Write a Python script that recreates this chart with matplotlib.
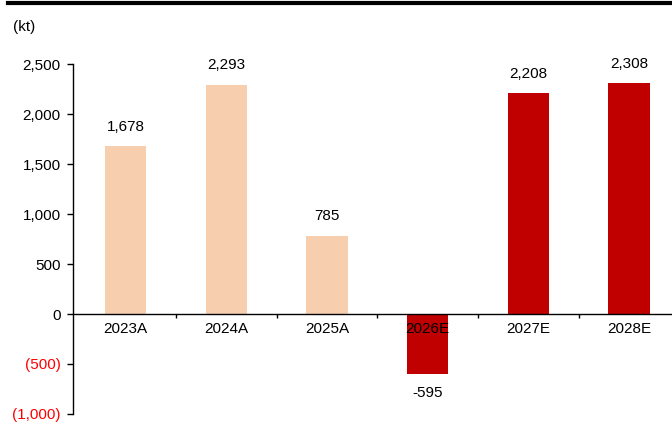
import matplotlib
matplotlib.use("Agg")
import matplotlib.pyplot as plt
from matplotlib.lines import Line2D
from matplotlib.ticker import FuncFormatter, FixedLocator

plt.rcParams['font.family'] = ['Liberation Sans', 'DejaVu Sans']
plt.rcParams['font.size'] = 11

years = ["2023A", "2024A", "2025A", "2026E", "2027E", "2028E"]
values = [1678, 2293, 785, -595, 2208, 2308]
is_estimate = [False, False, False, True, True, True]

ACTUAL_COLOR = "#F8CFAE"
ESTIMATE_COLOR = "#C00000"


def fmt_thousands(v, pos=None):
    v = int(round(v))
    if v < 0:
        return "({:,})".format(-v)
    return "{:,}".format(v)


fig = plt.figure(figsize=(6.72, 4.32), dpi=100)
ax = fig.add_axes([73 / 672, 18 / 432, 599 / 672, 350 / 432])

x = list(range(len(years)))
colors = [ESTIMATE_COLOR if e else ACTUAL_COLOR for e in is_estimate]
ax.bar(x, values, width=0.41, color=colors, zorder=1)

# value labels above positive bars, below negative ones
for xi, v in zip(x, values):
    if v >= 0:
        ax.annotate(f"{v:,}", (xi, v), xytext=(0, 9), textcoords="offset points",
                    ha="center", va="bottom", fontsize=11)
    else:
        ax.annotate(f"{v}", (xi, v), xytext=(0, -9), textcoords="offset points",
                    ha="center", va="top", fontsize=11)

ax.set_xlim(-0.521, 5.427)
ax.set_ylim(-1000, 2500)
ax.set_yticks(range(-1000, 2501, 500))
ax.yaxis.set_major_formatter(FuncFormatter(fmt_thousands))
for lbl, t in zip(ax.get_yticklabels(), ax.get_yticks()):
    lbl.set_color("#FF0000" if t < 0 else "black")

ax.set_xticks(x)
ax.set_xticklabels(years)
ax.xaxis.set_minor_locator(FixedLocator([i + 0.5 for i in range(len(years) - 1)]))
ax.tick_params(axis="x", which="major", length=0, pad=6, labelsize=11)
ax.tick_params(axis="x", which="minor", length=3, width=1, direction="out")
ax.tick_params(axis="y", length=4, width=1, pad=5, labelsize=11)

for side in ("top", "right"):
    ax.spines[side].set_visible(False)
ax.spines["bottom"].set_position(("data", 0))
ax.spines["left"].set_linewidth(1.0)
ax.spines["bottom"].set_linewidth(1.0)

# heavy rule across the top and the unit label
fig.add_artist(Line2D([8 / 672, 1.0], [1 - 3 / 432, 1 - 3 / 432],
                      color="black", lw=3.0, transform=fig.transFigure))
fig.text(13 / 672, 1 - 27 / 432, "(kt)", ha="left", va="center", fontsize=11)

fig.savefig("out.png", dpi=100)
